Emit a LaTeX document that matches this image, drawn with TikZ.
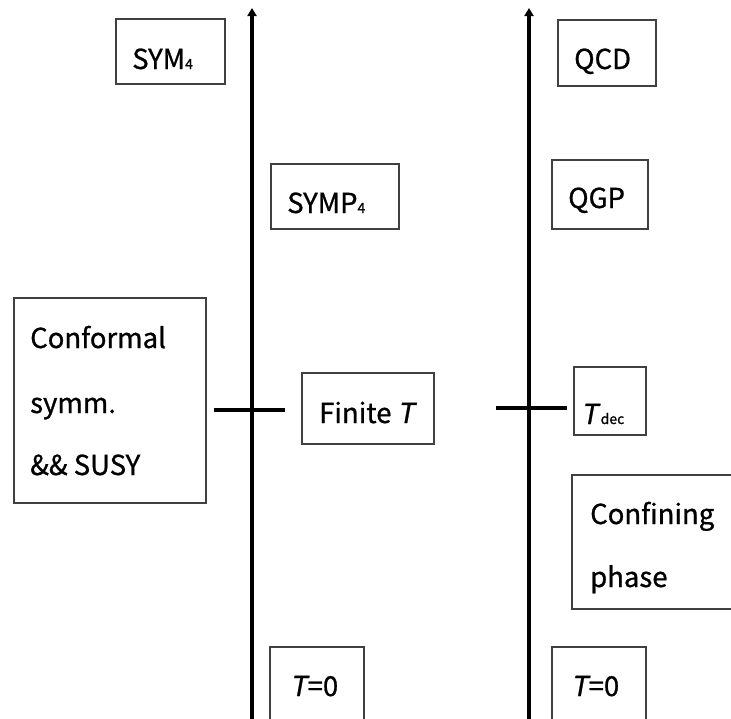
\documentclass[tikz,border=0pt]{standalone}
\usepackage{fontspec}
\setmainfont{Noto Sans CJK SC}[FakeBold=0.9]
\newfontfamily\slantfont{Noto Sans CJK SC}[FakeSlant=0.18,FakeBold=0.9]
\usetikzlibrary{arrows.meta}
\newcommand{\subsc}[1]{{\fontsize{14}{14}\selectfont #1}}
\newcommand{\itT}{{\slantfont T}\kern1pt}
\begin{document}
\begin{tikzpicture}[x=1pt,y=-1pt,
  axis/.style={line width=4.5pt,-{Triangle[length=8pt,width=9pt]}},
  tick/.style={line width=3.5pt},
  box/.style={draw=black!75,line width=1.2pt,inner sep=0,outer sep=0},
  lbl/.style={anchor=base west,inner sep=0,font=\fontsize{27.5}{27.5}\selectfont}]
\useasboundingbox (0,0) rectangle (731,718);
\clip (0,0) rectangle (731,718);
% axes
\coordinate (lb) at (252,730);
\coordinate (lt) at (252,8);
\coordinate (rb) at (529,730);
\coordinate (rt) at (529,8);
\draw[axis] (lb) -- (lt);
\draw[axis] (rb) -- (rt);
% ticks
\coordinate (tl1) at (214,410);
\coordinate (tl2) at (285,410);
\coordinate (tr1) at (496,408);
\coordinate (tr2) at (567,408);
\draw[tick] (tl1) -- (tl2);
\draw[tick] (tr1) -- (tr2);
% boxes
\node[box,minimum width=109pt,minimum height=65pt] (sym) at (170.5,51.5) {};
\node[box,minimum width=98pt,minimum height=66pt] (qcd) at (607,53) {};
\node[box,minimum width=128pt,minimum height=65pt] (symp) at (335,196.5) {};
\node[box,minimum width=96pt,minimum height=69pt] (qgp) at (600,194.5) {};
\node[box,minimum width=192pt,minimum height=205pt] (conf) at (110,400.5) {};
\node[box,minimum width=132pt,minimum height=71pt] (fin) at (368,408.5) {};
\node[box,minimum width=72pt,minimum height=68pt] (tdec) at (610,401) {};
\node[box,minimum width=165pt,minimum height=134pt] (confin) at (654.5,542) {};
\node[box,minimum width=94pt,minimum height=90pt] (tz1) at (317,692) {};
\node[box,minimum width=94pt,minimum height=90pt] (tz2) at (599,692) {};
% labels
\node[lbl] (tsym) at (132,69) {SYM\subsc{4}};
\node[lbl] (tqcd) at (574,69) {QCD};
\node[lbl] (tsymp) at (287,213) {SYMP\subsc{4}};
\node[lbl] (tqgp) at (568,208) {QGP};
\node[lbl] (tc1) at (30,348) {Conformal};
\node[lbl] (tc2) at (30,413) {symm.};
\node[lbl] (tc3) at (30,475) {\&\& SUSY};
\node[lbl] (tfin) at (319,423) {Finite \itT};
\node[lbl] (ttdec) at (581,424) {{\slantfont T}\kern3pt\subsc{dec}};
\node[lbl] (tcf1) at (590,524) {Confining};
\node[lbl] (tcf2) at (590,587) {phase};
\node[lbl] (tz1t) at (290,696) {\itT=0};
\node[lbl] (tz2t) at (571,696) {\itT=0};
\end{tikzpicture}
\end{document}
